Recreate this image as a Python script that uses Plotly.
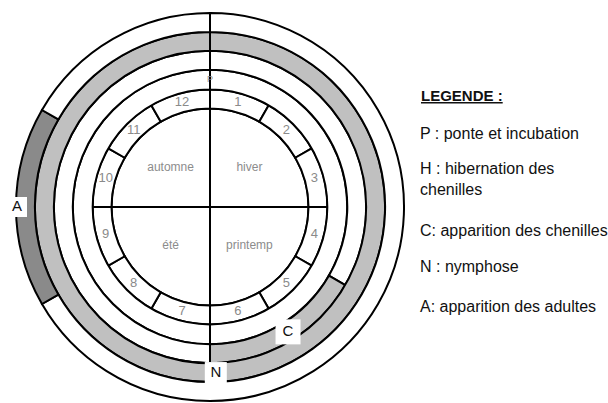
import plotly.graph_objects as go

# ---------------- data ----------------
months = list(range(1, 13))
month_labels = [str(m) for m in months]

seasons = ["hiver", "printemp", "été", "automne"]

# ring radii (inner edge, outer edge) in radial units
disk_r = 99
month_ring = (99, 118)
rings = {
    "P": (118, 138),
    "C": (138, 157),
    "N": (157, 176),
    "A": (176, 195),
}

# segments per ring: start month, end month, fill kind
P_start = [0, 6]
P_end = [6, 12]
P_kind = ["off", "off"]

C_start = [0, 4, 6]
C_end = [4, 6, 12]
C_kind = ["off", "on", "off"]

N_start = [0, 6]
N_end = [6, 12]
N_kind = ["on", "on"]

A_start = [0, 8, 10]
A_end = [8, 10, 12]
A_kind = ["off", "dark", "off"]

legend_title = "LEGENDE :"
legend_lines = [
    "P : ponte et incubation",
    "H : hibernation des<br>chenilles",
    "C: apparition des chenilles",
    "N : nymphose",
    "A: apparition des adultes",
]

# ---------------- styles ----------------
FILL = {"off": "#ffffff", "on": "#c0c0c0", "dark": "#8a8a8a"}
LINE = dict(color="#000000", width=2)
DEG_PER_MONTH = 30
FONT = "Liberation Sans, Arial"

fig = go.Figure()

# inner disk split in seasons
fig.add_trace(go.Barpolar(
    theta=[45 + 90 * i for i in range(4)],
    r=[disk_r] * 4,
    base=[0] * 4,
    width=[90] * 4,
    marker=dict(color="#ffffff", line=LINE),
    hoverinfo="skip", showlegend=False,
))

# month ring
fig.add_trace(go.Barpolar(
    theta=[(m - 0.5) * DEG_PER_MONTH for m in months],
    r=[month_ring[1] - month_ring[0]] * 12,
    base=[month_ring[0]] * 12,
    width=[DEG_PER_MONTH] * 12,
    marker=dict(color="#ffffff", line=LINE),
    hoverinfo="skip", showlegend=False,
))

segs = {
    "P": (P_start, P_end, P_kind),
    "C": (C_start, C_end, C_kind),
    "N": (N_start, N_end, N_kind),
    "A": (A_start, A_end, A_kind),
}
for name, (s, e, k) in segs.items():
    r0, r1 = rings[name]
    fig.add_trace(go.Barpolar(
        theta=[(a + b) / 2 * DEG_PER_MONTH for a, b in zip(s, e)],
        width=[(b - a) * DEG_PER_MONTH for a, b in zip(s, e)],
        r=[r1 - r0] * len(s),
        base=[r0] * len(s),
        marker=dict(color=[FILL[x] for x in k], line=LINE),
        hoverinfo="skip", showlegend=False,
    ))

# month numbers
fig.add_trace(go.Scatterpolar(
    r=[(month_ring[0] + month_ring[1]) / 2] * 12,
    theta=[(m - 0.5) * DEG_PER_MONTH for m in months],
    mode="text", text=month_labels,
    textfont=dict(family=FONT, size=13, color="#8a8a8a"),
    hoverinfo="skip", showlegend=False, cliponaxis=False,
))

# season names
fig.add_trace(go.Scatterpolar(
    r=[56] * 4,
    theta=[45 + 90 * i for i in range(4)],
    mode="text", text=seasons,
    textfont=dict(family=FONT, size=12, color="#8c8c8c"),
    hoverinfo="skip", showlegend=False, cliponaxis=False,
))

# small mark in P ring at the top
fig.add_trace(go.Scatterpolar(
    r=[128], theta=[0], mode="text", text=["P"],
    textfont=dict(family=FONT, size=9, color="#8a8a8a"),
    hoverinfo="skip", showlegend=False, cliponaxis=False,
))

# phase labels in white boxes
fig.add_trace(go.Scatterpolar(
    r=[194, 167, 148],
    theta=[270, 178, 148],
    mode="markers+text", text=["A", "N", "C"],
    marker=dict(symbol="square", size=[20, 22, 25], color="#ffffff",
                opacity=1, line=dict(width=0)),
    textfont=dict(family=FONT, size=15, color="#111111"),
    textposition="middle center",
    hoverinfo="skip", showlegend=False, cliponaxis=False,
))

W, H = 608, 403
cx, cy, R = 210, 207, 196
fig.update_layout(
    width=W, height=H,
    margin=dict(l=0, r=0, t=0, b=0),
    paper_bgcolor="#ffffff",
    polar=dict(
        domain=dict(x=[(cx - R) / W, (cx + R) / W], y=[0, 2 * (H - cy) / H]),
        bgcolor="#ffffff",
        bargap=0,
        angularaxis=dict(rotation=90, direction="clockwise", showline=False,
                         showgrid=False, showticklabels=False, ticks=""),
        radialaxis=dict(visible=False, range=[0, 197]),
    ),
)

# legend text on the right
fig.add_annotation(x=419 / W, y=(H - 95) / H, xref="paper", yref="paper",
                   xanchor="left", yanchor="middle", showarrow=False,
                   text="<b><u>" + legend_title + "</u></b>",
                   font=dict(family=FONT, size=15, color="#111111"))
legend_y = [133, 179, 230, 266, 306]
for txt, yy in zip(legend_lines, legend_y):
    fig.add_annotation(x=418 / W, y=(H - yy) / H, xref="paper", yref="paper",
                       xanchor="left", yanchor="middle", showarrow=False,
                       align="left", text=txt,
                       font=dict(family=FONT, size=16, color="#111111"))

fig.write_html("out.html", config={"displayModeBar": False},
               post_script="document.body.style.margin='0';")
